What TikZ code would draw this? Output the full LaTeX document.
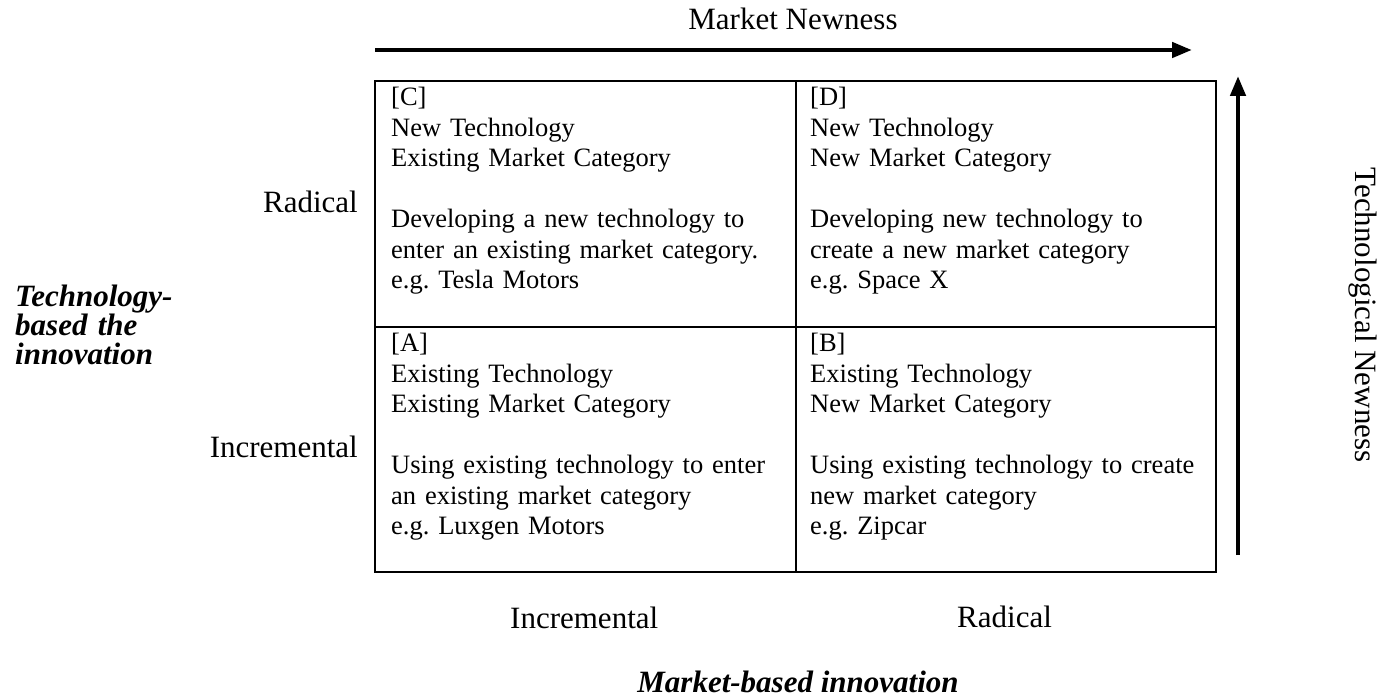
\documentclass[tikz,border=0pt]{standalone}
\usepackage{fontspec}
\setmainfont{Liberation Serif}
\usetikzlibrary{arrows.meta}
\frenchspacing
\newcommand{\cellfont}{\fontsize{26.5}{30.5}\selectfont\frenchspacing}
\newcommand{\titlefont}{\fontsize{31}{29}\selectfont\bfseries\itshape\lineskiplimit=-50pt\relax\lineskip=0pt\relax}
\begin{document}
\begin{tikzpicture}[x=1pt,y=-1pt,
  gridline/.style={draw,line width=2.2pt},
  cell/.style={anchor=base west,inner sep=0pt,text width=400pt,align=left,font=\cellfont},
  lab/.style={inner sep=0pt,font=\fontsize{31}{31}\selectfont},
  axisarrow/.style={line width=4.5pt,-{Triangle[length=20pt,width=15pt]}},
  titlelab/.style={inner sep=0pt,font=\titlefont}]
\useasboundingbox (0,0) rectangle (1400,700);
% grid
\draw[gridline] (375,81) rectangle (1216,572);
\draw[gridline] (796,81) -- (796,572);
\draw[gridline] (375,327) -- (1216,327);
% quadrant texts
\node[cell] (C) at (391,106) {{[C]}\\New Technology\\Existing Market Category\\[30.5pt]Developing a new technology to\\enter an existing market category.\\e.g. Tesla Motors};
\node[cell] (D) at (810,106) {{[D]}\\New Technology\\New Market Category\\[30.5pt]Developing new technology to\\create a new market category\\e.g. Space X};
\node[cell] (A) at (391,352) {{[A]}\\Existing Technology\\Existing Market Category\\[30.5pt]Using existing technology to enter\\an existing market category\\e.g. Luxgen Motors};
\node[cell] (B) at (810,352) {{[B]}\\Existing Technology\\New Market Category\\[30.5pt]Using existing technology to create\\new market category\\e.g. Zipcar};
% axis labels
\node[lab,anchor=base east] (rad) at (358,213) {Radical};
\node[lab,anchor=base east] (inc) at (358,457) {Incremental};
\node[lab,anchor=base west] (binc) at (510,628) {Incremental};
\node[lab,anchor=base west] (brad) at (957,627) {Radical};
\node[lab,anchor=base] (mn) at (793,30) {Market Newness};
\node[lab,rotate=-90] (tn) at (1363,315) {Technological Newness};
\node[titlelab,anchor=base] (mbi) at (798,692) {Market-based innovation};
\node[titlelab,anchor=base west,text width=200pt,align=left] (tbi) at (15,307) {Technology-\\based the\\innovation};
% arrows
\coordinate (hs) at (375,50);
\coordinate (he) at (1192,50);
\coordinate (vs) at (1238,555);
\coordinate (ve) at (1238,76);
\draw[axisarrow] (hs) -- (he);
\draw[axisarrow] (vs) -- (ve);
\end{tikzpicture}
\end{document}
